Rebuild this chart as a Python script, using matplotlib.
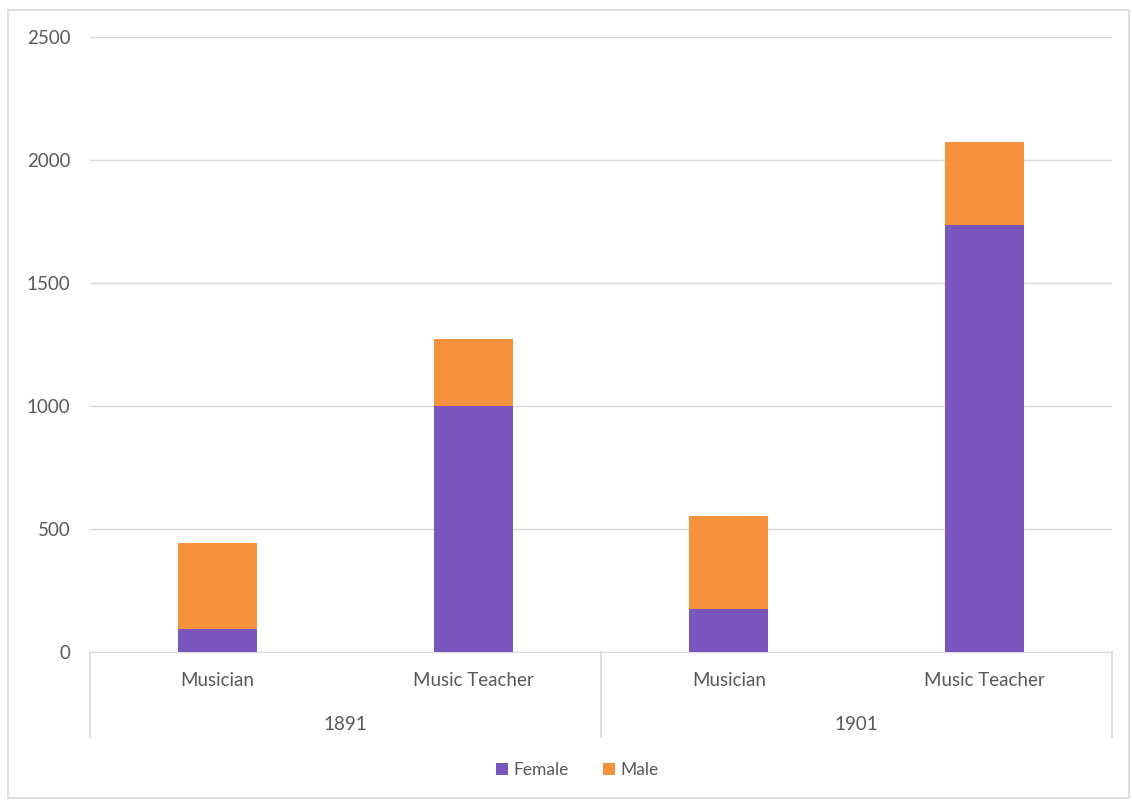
import matplotlib.pyplot as plt
from matplotlib.patches import Rectangle

# data
categories = ["Musician", "Music Teacher", "Musician", "Music Teacher"]
years = ["1891", "1901"]
female = [95, 1000, 173, 1736]
male = [348, 273, 378, 336]

purple = "#7A55BE"
orange = "#F6923E"
grid_c = "#D9D9D9"
text_c = "#595959"

plt.rcParams["font.family"] = ["Lato", "DejaVu Sans"]

fig = plt.figure(figsize=(11.32, 8), dpi=100)
ax = fig.add_axes([90 / 1132, 1 - 652 / 800, 1022 / 1132, 615 / 800])

x = list(range(len(categories)))
b1 = ax.bar(x, female, 0.31, color=purple, label="Female", zorder=3)
b2 = ax.bar(x, male, 0.31, bottom=female, color=orange, label="Male", zorder=3)

ax.set_xlim(-0.5, len(categories) - 0.5)
ax.set_ylim(0, 2500)
ax.set_yticks(range(0, 2501, 500))
ax.tick_params(axis="y", length=0, pad=14, labelsize=13.5, labelcolor=text_c)
ax.set_xticks([])
ax.grid(axis="y", color=grid_c, linewidth=1, zorder=0)
for s in ["top", "right", "left"]:
    ax.spines[s].set_visible(False)
ax.spines["bottom"].set_color(grid_c)

# two-level category axis, y in axes coords
trans = ax.get_xaxis_transform()
h = 615.0
for xi, lab in zip(x, categories):
    ax.text(xi, -29 / h, lab, transform=trans, ha="center", va="center",
            fontsize=13.5, color=text_c)
for gi, yr in enumerate(years):
    ax.text(gi * 2 + 0.5, -72 / h, yr, transform=trans, ha="center", va="center",
            fontsize=13.5, color=text_c)
for xv in [-0.5, 1.5, 3.5]:
    ax.plot([xv, xv], [0, -85 / h], transform=trans, color=grid_c, linewidth=1.2,
            clip_on=False)

fig.legend(handles=[b1, b2], loc="center", bbox_to_anchor=(0.51, 1 - 770 / 800),
           ncol=2, frameon=False, fontsize=12.5, handlelength=0.7, handleheight=0.7,
           handletextpad=0.3, columnspacing=2.0, labelcolor=text_c)

# chart border
fig.patches.append(Rectangle((8 / 1132, 2 / 800), 1121 / 1132, 788 / 800,
                             transform=fig.transFigure, fill=False,
                             edgecolor=grid_c, linewidth=1.2))

fig.savefig("out.png", dpi=100)
